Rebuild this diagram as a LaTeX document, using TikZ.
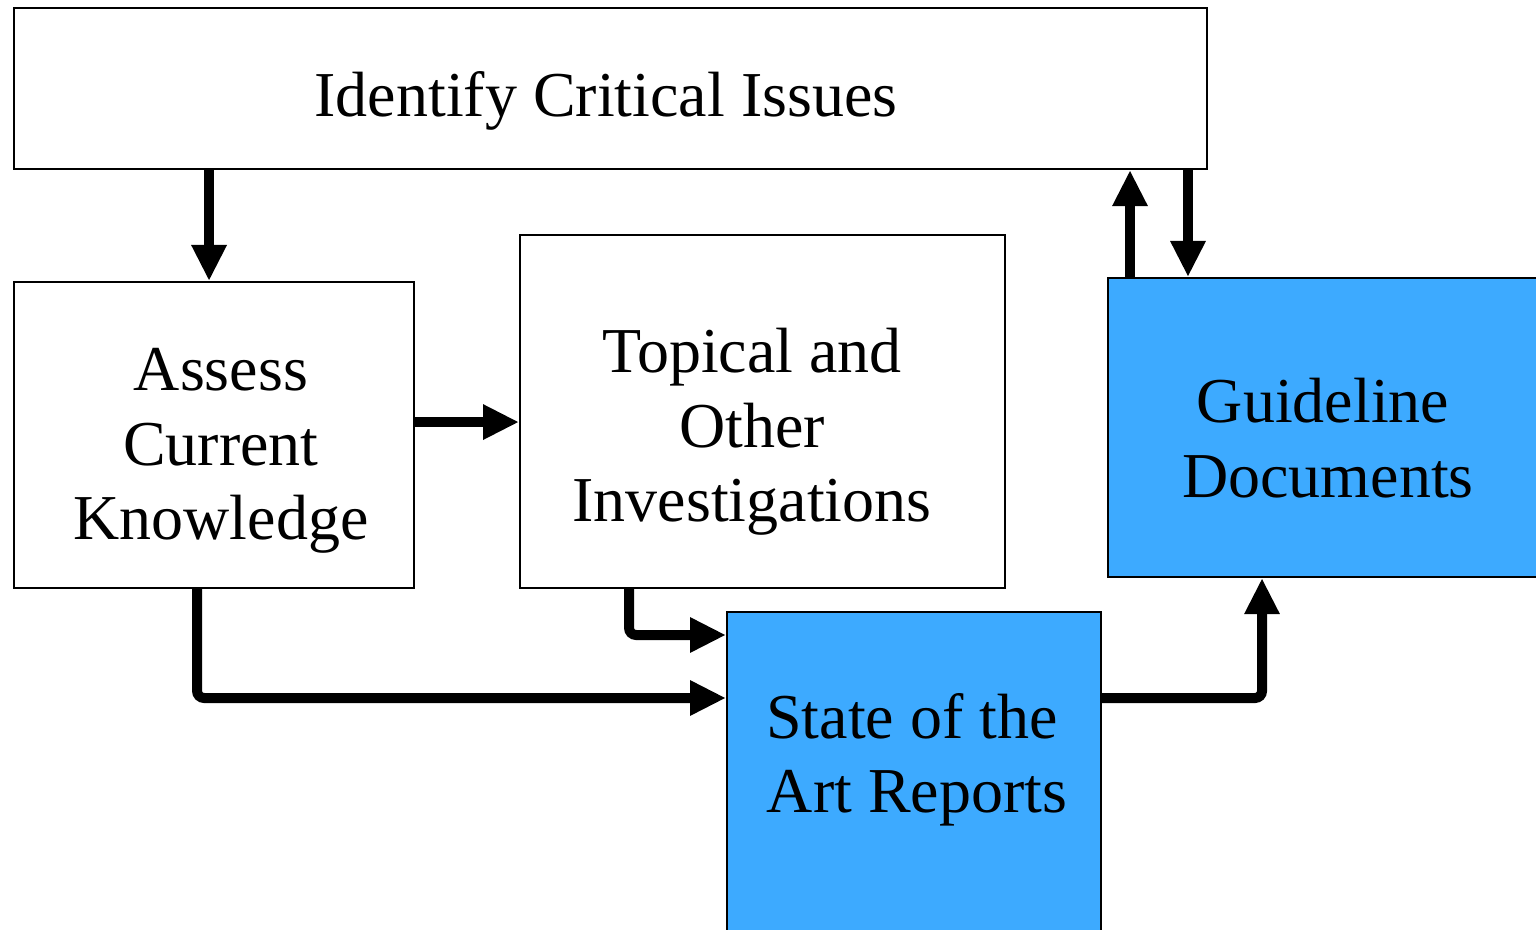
\documentclass[tikz,border=0pt]{standalone}
\usepackage{fontspec}
\setmainfont{Liberation Serif}
\usetikzlibrary{arrows.meta}
\definecolor{boxblue}{RGB}{61,170,255}
\begin{document}
\begin{tikzpicture}[x=1cm,y=1cm,
    box/.style={draw,line width=0.6pt,anchor=north west,inner sep=0pt},
    bluebox/.style={box,fill=boxblue},
    txt/.style={align=center,inner sep=0pt,font=\fontsize{18.2}{21.2}\selectfont},
    arr/.style={line width=0.1cm,rounded corners=2pt,
      -{Triangle[length=0.36cm,width=0.33cm]}}]
  \useasboundingbox (0,0) rectangle (15.36,9.29);
  \clip (0,0) rectangle (15.36,9.29);
  % boxes
  \node[box,minimum width=11.93cm,minimum height=1.61cm] (identify) at (0.13,9.22) {};
  \node[box,minimum width=4.00cm,minimum height=3.06cm] (assess) at (0.13,6.48) {};
  \node[box,minimum width=4.85cm,minimum height=3.53cm] (topical) at (5.19,6.95) {};
  \node[bluebox,minimum width=4.53cm,minimum height=2.99cm] (guide) at (11.07,6.52) {};
  \node[bluebox,minimum width=3.74cm,minimum height=3.40cm] (state) at (7.26,3.18) {};
  % texts
  \node[txt] (identifytxt) at (6.06,8.28) {Identify Critical Issues};
  \node[txt] (assesstxt) at (2.21,4.78) {Assess\\Current\\Knowledge};
  \node[txt] (topicaltxt) at (7.52,4.97) {Topical and\\Other\\Investigations};
  \node[txt] (guidetxt) at (13.23,4.91) {Guideline\\\hspace*{0.1cm}Documents};
  \node[txt] (statetxt) at (9.12,1.69) {State of the\\\hspace*{0.1cm}Art Reports};
  % connectors
  \draw[arr] ([xshift=-0.05cm]assess.north |- identify.south) -- ([xshift=-0.05cm]assess.north);
  \draw[arr] ([yshift=0.13cm]assess.east) -- ([yshift=0.13cm]assess.east -| topical.west);
  \draw[arr] ([xshift=-1.335cm]topical.south) |- ([yshift=-0.24cm]state.north west);
  \draw[arr] ([xshift=-0.17cm]assess.south) |- ([yshift=-0.87cm]state.north west);
  \draw[arr] ([yshift=-0.87cm]state.north east) -| ([xshift=1.55cm]guide.south west);
  \draw[arr] ([xshift=0.23cm]guide.north west) -- ([xshift=0.23cm]guide.north west |- identify.south);
  \draw[arr] ([xshift=0.81cm]guide.north west |- identify.south) -- ([xshift=0.81cm]guide.north west);
\end{tikzpicture}
\end{document}
